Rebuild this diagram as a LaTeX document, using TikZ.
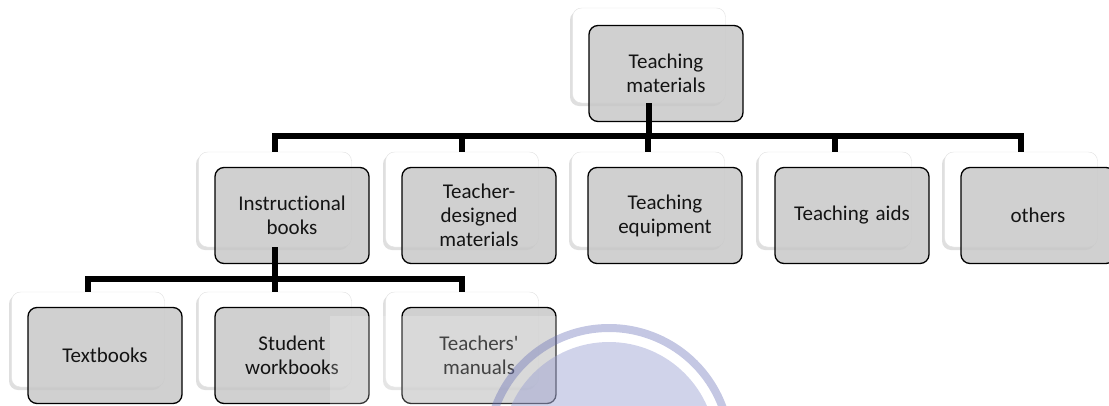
\documentclass[tikz,border=0pt]{standalone}
\usepackage{fontspec}
\setmainfont{Carlito}[Ligatures=NoCommon]
\usepackage{tikz}
\usetikzlibrary{positioning,shadows,calc}
\usepackage{xcolor}
\definecolor{cFront}{RGB}{200,200,200}
\definecolor{cText}{RGB}{20,20,20}
\definecolor{cRing}{RGB}{100,108,182}
\definecolor{cDisc}{RGB}{152,158,210}
\tikzset{
  backbox/.style={rectangle,rounded corners=9pt,draw=black!12,fill=white,
                  minimum width=153pt,minimum height=95pt,
                  drop shadow={shadow xshift=-2.5pt,shadow yshift=-3pt,
                               opacity=0.25}},
  frontbox/.style={rectangle,rounded corners=9pt,draw=black,line width=1.3pt,
                   fill=cFront,fill opacity=0.85,text opacity=1,
                   minimum width=154pt,minimum height=96pt,
                   text width=145pt,align=center,text=cText,
                   font=\fontsize{21}{24}\selectfont},
  link/.style={line width=5.5pt,line join=miter,color=black}
}

\begin{document}
\begin{tikzpicture}[x=1pt,y=-1pt]
  \useasboundingbox (0,0) rectangle (1109,405);

  % back boxes
  \node[backbox] (tmB) at (649,55.5) {};
  \node[backbox] (ibB) at (275,199.5) {};
  \node[backbox] (tdB) at (462,199.5) {};
  \node[backbox] (teB) at (648,199.5) {};
  \node[backbox] (taB) at (835,199.5) {};
  \node[backbox] (otB) at (1021,199.5) {};
  \node[backbox] (tbB) at (88,339.5) {};
  \node[backbox] (swB) at (275,339.5) {};
  \node[backbox] (tmaB) at (462,339.5) {};

  % front boxes
  \node[frontbox] (tm) at (666,73.5) {Teaching\\materials};
  \node[frontbox] (ib) at (292,215.5) {Instructional\\books};
  \node[frontbox] (td) at (479,215.5) {Teacher-\\designed\\materials};
  \node[frontbox] (te) at (665,215.5) {Teaching\\equipment};
  \node[frontbox] (ta) at (852,215.5) {Teaching aids};
  \node[frontbox] (ot) at (1038,215.5) {others};
  \node[frontbox] (tb) at (105,355.5) {Textbooks};
  \node[frontbox] (sw) at (292,355.5) {Student\\workbooks};
  \node[frontbox] (tma) at (479,355.5) {Teachers\textquotesingle\\manuals};

  % connectors
  \coordinate (bar1) at (649,136);
  \coordinate (bar2) at (275,279);
  \draw[link] (tmB.south) -- (bar1);
  \draw[link] (ibB.north) -- (ibB.north |- bar1) -- (otB.north |- bar1)
              -- (otB.north);
  \draw[link] (tdB.north) -- (tdB.north |- bar1);
  \draw[link] (teB.north) -- (teB.north |- bar1);
  \draw[link] (taB.north) -- (taB.north |- bar1);
  \draw[link] (ibB.south) -- (bar2);
  \draw[link] (tbB.north) -- (tbB.north |- bar2) -- (tmaB.north |- bar2)
              -- (tmaB.north);
  \draw[link] (swB.north) -- (swB.north |- bar2);

  % watermark
  \fill[white,opacity=0.2] (330,316) rectangle (1109,405);
  \draw[cRing,opacity=0.38,line width=8pt] (609,449) circle[radius=121];
  \fill[cDisc,opacity=0.45] (609,449) circle[radius=107];

\end{tikzpicture}
\end{document}
